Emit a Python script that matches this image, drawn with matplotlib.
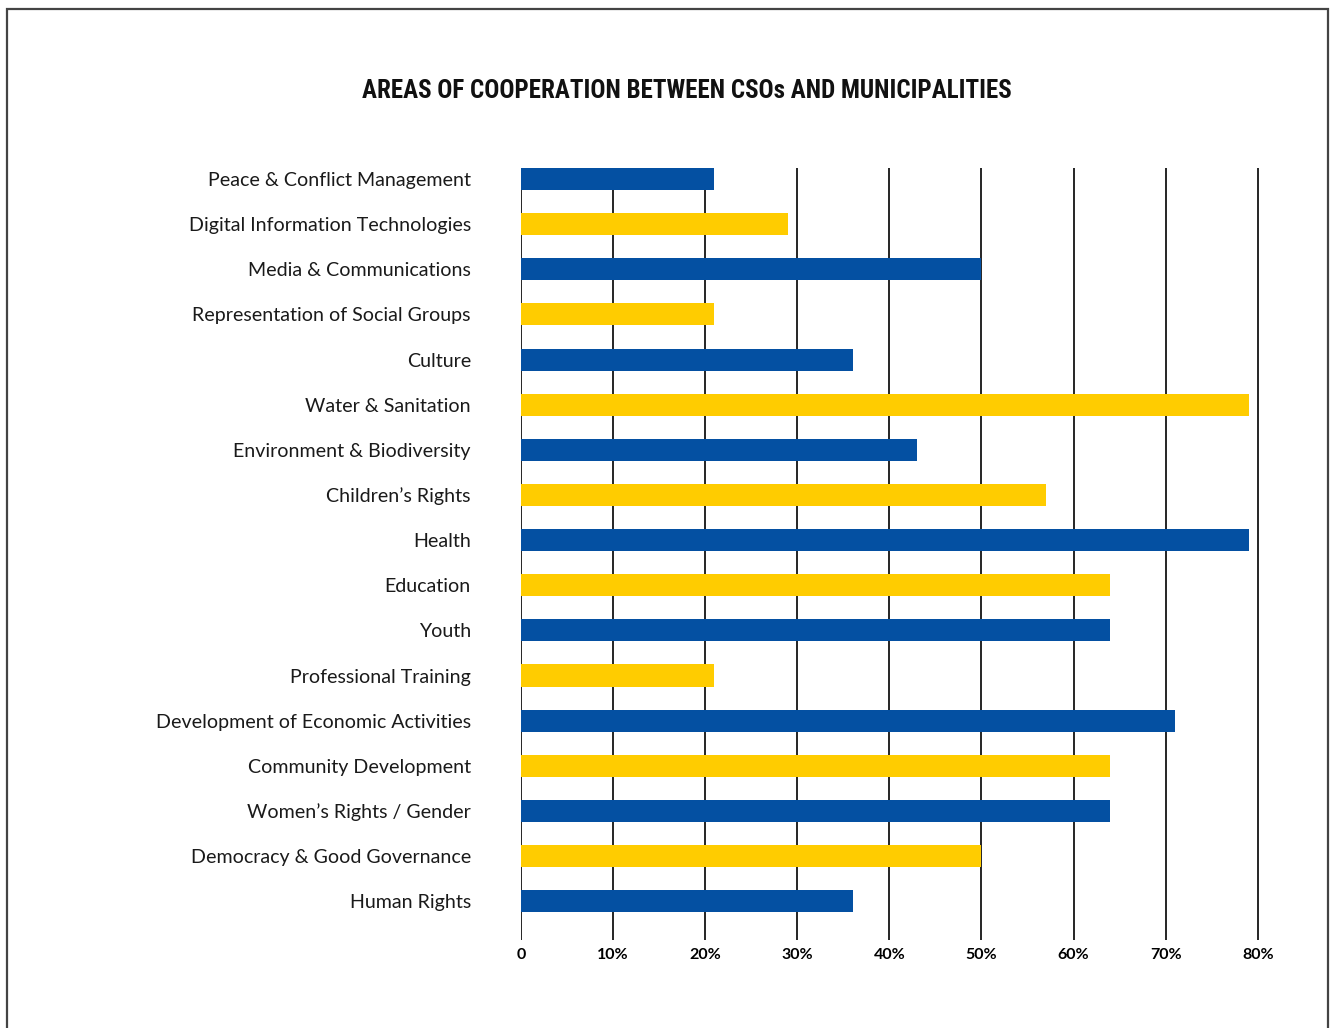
import matplotlib.pyplot as plt
from matplotlib import font_manager
from matplotlib.patches import Rectangle

# areas, listed top to bottom
areas = ['Peace & Conflict Management', 'Digital Information Technologies',
         'Media & Communications', 'Representation of Social Groups',
         'Culture', 'Water & Sanitation', 'Environment & Biodiversity',
         'Children\u2019s Rights', 'Health', 'Education', 'Youth',
         'Professional Training', 'Development of Economic Activities',
         'Community Development', 'Women\u2019s Rights / Gender',
         'Democracy & Good Governance', 'Human Rights']
share = [21, 29, 50, 21, 36, 79, 43, 57, 79, 64, 64, 21, 71, 64, 64, 50, 36]
ticks = [0, 10, 20, 30, 40, 50, 60, 70, 80]
tick_labels = ['0', '10%', '20%', '30%', '40%', '50%', '60%', '70%', '80%']

blue = '#0450A2'
yellow = '#FFCC00'
colors = [blue if i % 2 == 0 else yellow for i in range(len(areas))]

# narrow bold face for the headline, DejaVu if none is around
installed = {f.name for f in font_manager.fontManager.ttflist}
title_font, title_size = 'DejaVu Sans', 13
for cand in ['Roboto Condensed', 'Liberation Sans Narrow']:
    if cand in installed:
        title_font, title_size = cand, 18
        break

fig = plt.figure(figsize=(13.3, 10.28), dpi=100)
ax = fig.add_axes([0.3917, 0.0856, 0.5609, 0.751])

pos = list(range(len(areas)))
ax.barh(pos, share, height=0.49, color=colors, zorder=3)

ax.set_xlim(0, 81)
ax.set_ylim(16.86, -0.245)
ax.set_xticks(ticks)
ax.set_xticklabels(tick_labels, fontfamily='Lato', fontweight='bold', fontsize=11.5)
ax.set_yticks(pos)
ax.set_yticklabels(areas, fontfamily='Lato', fontsize=14.1, color='#1a1a1a')
ax.tick_params(axis='y', length=0, pad=36)
ax.tick_params(axis='x', length=0, pad=6)
ax.grid(axis='x', color='black', linewidth=1.2, zorder=1)
for s in ax.spines.values():
    s.set_visible(False)

fig.text(0.5165, 0.9115, 'AREAS OF COOPERATION BETWEEN CSOs AND MUNICIPALITIES',
         ha='center', va='center', fontsize=title_size, fontweight='bold',
         fontfamily=title_font, color='#111111')

# outer frame, open at the bottom edge
fig.add_artist(Rectangle((7 / 1330, -0.05), 1321 / 1330, 1.05 - 9 / 1028,
                         transform=fig.transFigure, fill=False,
                         edgecolor='#444444', linewidth=1.6, clip_on=False))

fig.savefig('out.png', dpi=100)
